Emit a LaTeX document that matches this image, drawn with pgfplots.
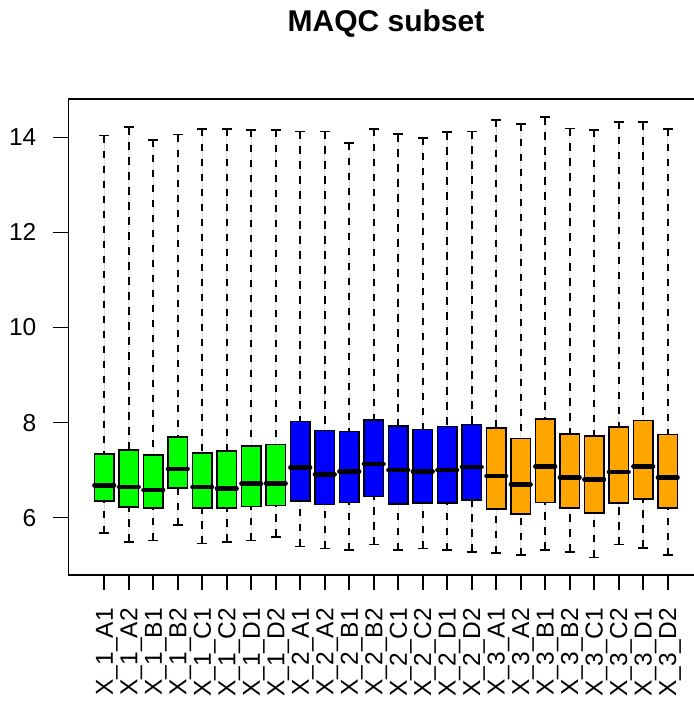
\documentclass[border=0pt]{standalone}
\usepackage{fontspec}
\setmainfont{Liberation Sans}
\usepackage{pgfplots}
\pgfplotsset{compat=1.18}
\usepgfplotslibrary{statistics}
\definecolor{rgreen}{HTML}{00FF00}
\definecolor{rblue}{HTML}{0000FF}
\definecolor{rorange}{HTML}{FFA500}
\pgfplotsset{
  boxplot/draw/median/.code={%
    \draw[black, line width=4.6pt, line cap=round]
      (boxplot box cs:\pgfplotsboxplotvalue{median},0)
      -- (boxplot box cs:\pgfplotsboxplotvalue{median},1);
  },
  boxplot/draw/lower whisker/.code={%
    \draw[black, line width=1.6pt, dash pattern=on 7.5pt off 7.5pt]
      (boxplot box cs:\pgfplotsboxplotvalue{lower whisker},0.5)
      -- (boxplot box cs:\pgfplotsboxplotvalue{lower quartile},0.5);
    \draw[black, line width=1.6pt]
      (boxplot whisker cs:\pgfplotsboxplotvalue{lower whisker},0)
      -- (boxplot whisker cs:\pgfplotsboxplotvalue{lower whisker},1);
  },
  boxplot/draw/upper whisker/.code={%
    \draw[black, line width=1.6pt, dash pattern=on 7.5pt off 7.5pt]
      (boxplot box cs:\pgfplotsboxplotvalue{upper whisker},0.5)
      -- (boxplot box cs:\pgfplotsboxplotvalue{upper quartile},0.5);
    \draw[black, line width=1.6pt]
      (boxplot whisker cs:\pgfplotsboxplotvalue{upper whisker},0)
      -- (boxplot whisker cs:\pgfplotsboxplotvalue{upper whisker},1);
  },
}
\newcommand{\bp}[7]{\addplot[draw=black, line width=1.6pt, fill=#7,
    boxplot prepared={draw position=#1, lower whisker=#2, lower quartile=#3,
      median=#4, upper quartile=#5, upper whisker=#6, box extend=0.8, whisker extend=0.4}]
    coordinates {};}
\begin{document}
\begin{tikzpicture}
\begin{axis}[
  at={(68.5pt,130pt)}, anchor=south west,
  scale only axis, width=635pt, height=476pt,
  xmin=-0.46, xmax=25.46, ymin=4.79, ymax=14.81,
  boxplot/draw direction=y,
  axis line style={line width=1.6pt},
  xtick={1,...,24},
  xticklabels={X\_1\_A1,X\_1\_A2,X\_1\_B1,X\_1\_B2,X\_1\_C1,X\_1\_C2,X\_1\_D1,X\_1\_D2,
    X\_2\_A1,X\_2\_A2,X\_2\_B1,X\_2\_B2,X\_2\_C1,X\_2\_C2,X\_2\_D1,X\_2\_D2,
    X\_3\_A1,X\_3\_A2,X\_3\_B1,X\_3\_B2,X\_3\_C1,X\_3\_C2,X\_3\_D1,X\_3\_D2},
  ytick={6,8,10,12,14},
  tick align=outside, xtick pos=bottom, ytick pos=left,
  major tick length=15pt,
  tick style={line width=1.6pt, black},
  /pgf/number format/assume math mode=true,
  tick label style={font=\fontsize{24.5}{28}\selectfont},
  xticklabel style={rotate=90, anchor=east, inner sep=0pt, text height=17pt, text depth=0pt, xshift=-18pt},
  yticklabel style={anchor=east, inner sep=0pt, text height=17pt, text depth=0pt, xshift=-17pt},
  clip=false,
]
\bp{1}{5.67}{6.345}{6.68}{7.335}{14.04}{rgreen}
\bp{2}{5.49}{6.22}{6.64}{7.42}{14.22}{rgreen}
\bp{3}{5.52}{6.20}{6.58}{7.31}{13.95}{rgreen}
\bp{4}{5.84}{6.62}{7.02}{7.70}{14.06}{rgreen}
\bp{5}{5.45}{6.20}{6.64}{7.36}{14.18}{rgreen}
\bp{6}{5.49}{6.20}{6.61}{7.40}{14.18}{rgreen}
\bp{7}{5.52}{6.23}{6.71}{7.50}{14.16}{rgreen}
\bp{8}{5.59}{6.25}{6.72}{7.54}{14.16}{rgreen}
\bp{9}{5.39}{6.345}{7.05}{8.02}{14.13}{rblue}
\bp{10}{5.35}{6.27}{6.91}{7.83}{14.13}{rblue}
\bp{11}{5.31}{6.32}{6.97}{7.81}{13.89}{rblue}
\bp{12}{5.43}{6.44}{7.13}{8.05}{14.18}{rblue}
\bp{13}{5.31}{6.29}{7.00}{7.93}{14.07}{rblue}
\bp{14}{5.35}{6.31}{6.97}{7.85}{13.99}{rblue}
\bp{15}{5.31}{6.31}{7.00}{7.92}{14.11}{rblue}
\bp{16}{5.28}{6.37}{7.06}{7.96}{14.13}{rblue}
\bp{17}{5.25}{6.18}{6.87}{7.88}{14.37}{rorange}
\bp{18}{5.21}{6.07}{6.70}{7.66}{14.29}{rorange}
\bp{19}{5.32}{6.32}{7.08}{8.08}{14.43}{rorange}
\bp{20}{5.28}{6.20}{6.84}{7.76}{14.19}{rorange}
\bp{21}{5.16}{6.09}{6.80}{7.72}{14.16}{rorange}
\bp{22}{5.43}{6.30}{6.96}{7.90}{14.33}{rorange}
\bp{23}{5.36}{6.39}{7.08}{8.04}{14.32}{rorange}
\bp{24}{5.21}{6.20}{6.84}{7.75}{14.18}{rorange}
\end{axis}
\node[anchor=base, font=\fontsize{30}{36}\selectfont\bfseries] at (386pt,673.5pt) {MAQC subset};
\pgfresetboundingbox
\path[use as bounding box] (0pt,0pt) rectangle (694pt,705pt);
\end{tikzpicture}
\end{document}
